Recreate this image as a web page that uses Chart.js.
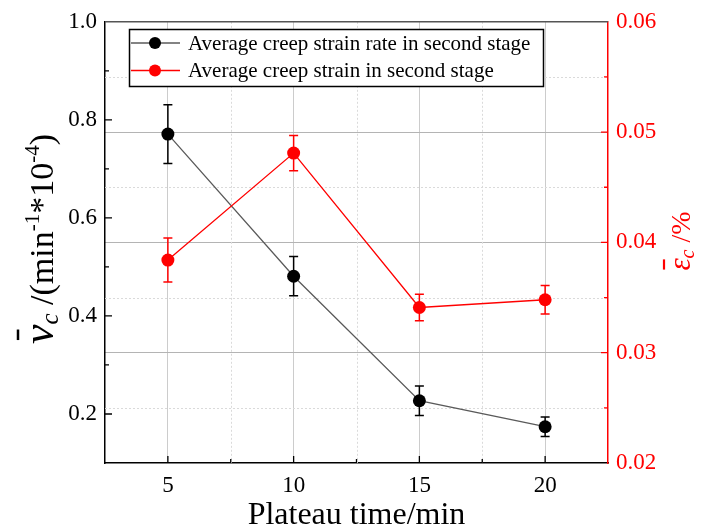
<!DOCTYPE html>
<html>
<head>
<meta charset="utf-8">
<script src="https://cdn.jsdelivr.net/npm/chart.js@4.4.0/dist/chart.umd.min.js"></script>
<style>
  html, body { margin: 0; padding: 0; background: #fff; }
  #wrap { width: 702px; height: 530px; }
</style>
</head>
<body>
<div id="wrap"><canvas id="creepChart" width="702" height="530"></canvas></div>
<script>
// Plateau time (min)
const plateauTimes = [5, 10, 15, 20];
// Left axis: average creep strain rate in second stage (min^-1 * 10^-4)
const strainRate = [0.771, 0.481, 0.227, 0.174];
const strainRateErr = [0.060, 0.040, 0.030, 0.020];
// Right axis: average creep strain in second stage (%)
const strainAvg = [0.0384, 0.0481, 0.0341, 0.0348];
const strainAvgErr = [0.0020, 0.0016, 0.0012, 0.0013];

// Tick labels
const xTickLabels = ['5', '10', '15', '20'];
const leftTickLabels = ['0.2', '0.4', '0.6', '0.8', '1.0'];
const rightTickLabels = ['0.02', '0.03', '0.04', '0.05', '0.06'];
const legendLabels = ['Average creep strain rate in second stage', 'Average creep strain in second stage'];

const serif = "'Liberation Serif', serif";
const RED = '#ff0000';

const isMultiple = (v, step) => Math.abs(v / step - Math.round(v / step)) < 1e-6;

/**
 * Dotted minor grid lines (x minors and right axis minors)
 */
const minorGrid = {
    id: 'minorGrid',
    beforeDatasetsDraw(chart) {
        const { ctx, chartArea: a } = chart;
        const xs = chart.scales.x, y2 = chart.scales.y2;
        ctx.save();
        ctx.strokeStyle = '#dadada';
        ctx.lineWidth = 1;
        ctx.setLineDash([2, 2]);
        ctx.beginPath();
        xs.ticks.forEach(t => {
            if (isMultiple(t.value, 5) || t.value <= xs.min || t.value >= xs.max) return;
            const x = Math.round(xs.getPixelForValue(t.value)) + 0.5;
            ctx.moveTo(x, a.top); ctx.lineTo(x, a.bottom);
        });
        y2.ticks.forEach(t => {
            if (isMultiple(t.value, 0.01) || t.value <= y2.min || t.value >= y2.max) return;
            const y = Math.round(y2.getPixelForValue(t.value)) + 0.5;
            ctx.moveTo(a.left, y); ctx.lineTo(a.right, y);
        });
        ctx.stroke();
        ctx.restore();
    }
};

/**
 * Vertical error bars with caps, drawn under the markers
 */
const errorBars = {
    id: 'errorBars',
    beforeDatasetsDraw(chart) {
        const { ctx } = chart;
        const xs = chart.scales.x;
        chart.data.datasets.forEach(ds => {
            const ys = chart.scales[ds.yAxisID];
            ctx.save();
            ctx.strokeStyle = ds.errColor;
            ctx.lineWidth = 1.5;
            ds.data.forEach((p, j) => {
                const x = xs.getPixelForValue(p.x);
                const top = ys.getPixelForValue(p.y + ds.errors[j]);
                const bot = ys.getPixelForValue(p.y - ds.errors[j]);
                ctx.beginPath();
                ctx.moveTo(x, top); ctx.lineTo(x, bot);
                ctx.moveTo(x - 4.5, top); ctx.lineTo(x + 4.5, top);
                ctx.moveTo(x - 4.5, bot); ctx.lineTo(x + 4.5, bot);
                ctx.stroke();
            });
            ctx.restore();
        });
    }
};

/**
 * Inward tick marks, top frame line, legend box and axis titles
 */
const decorations = {
    id: 'decorations',
    afterDraw(chart) {
        const { ctx, chartArea: a } = chart;
        const xs = chart.scales.x, ys = chart.scales.y, y2 = chart.scales.y2;

        // top frame
        ctx.save();
        ctx.strokeStyle = '#555';
        ctx.lineWidth = 1.5;
        ctx.beginPath();
        ctx.moveTo(a.left, a.top); ctx.lineTo(a.right, a.top);
        ctx.stroke();

        // inward ticks
        ctx.lineWidth = 1.3;
        ctx.strokeStyle = '#000';
        ctx.beginPath();
        xs.ticks.forEach(t => {
            if (t.value <= xs.min || t.value >= xs.max) return;
            const x = xs.getPixelForValue(t.value);
            const len = isMultiple(t.value, 5) ? 7 : 4;
            ctx.moveTo(x, a.bottom); ctx.lineTo(x, a.bottom - len);
        });
        ys.ticks.forEach(t => {
            if (t.value <= ys.min + 1e-9 || t.value >= ys.max - 1e-9) return;
            const y = ys.getPixelForValue(t.value);
            const len = isMultiple(t.value, 0.2) ? 7 : 4;
            ctx.moveTo(a.left, y); ctx.lineTo(a.left + len, y);
        });
        ctx.stroke();
        ctx.strokeStyle = RED;
        ctx.beginPath();
        y2.ticks.forEach(t => {
            if (t.value <= y2.min + 1e-9 || t.value >= y2.max - 1e-9) return;
            const y = y2.getPixelForValue(t.value);
            const len = isMultiple(t.value, 0.01) ? 7 : 4;
            ctx.moveTo(a.right, y); ctx.lineTo(a.right - len, y);
        });
        ctx.stroke();

        // legend
        const lx = 129, ly = 29, lw = 414, lh = 57;
        ctx.fillStyle = '#fff';
        ctx.fillRect(lx, ly, lw, lh);
        ctx.strokeStyle = '#000';
        ctx.lineWidth = 1.5;
        ctx.strokeRect(lx + 0.5, ly + 0.5, lw, lh);
        const rows = [
            { text: legendLabels[0], line: '#5a5a5a', dot: '#000', y: 43 },
            { text: legendLabels[1], line: RED, dot: RED, y: 70.5 }
        ];
        ctx.font = '21px ' + serif;
        ctx.textBaseline = 'middle';
        ctx.textAlign = 'left';
        rows.forEach(r => {
            ctx.strokeStyle = r.line;
            ctx.lineWidth = 1.3;
            ctx.beginPath();
            ctx.moveTo(lx + 2, r.y); ctx.lineTo(lx + 51, r.y);
            ctx.stroke();
            ctx.fillStyle = r.dot;
            ctx.beginPath();
            ctx.arc(lx + 26, r.y, 6, 0, Math.PI * 2);
            ctx.fill();
            ctx.fillStyle = '#000';
            ctx.fillText(r.text, lx + 59, r.y + 1);
        });

        // x title
        ctx.fillStyle = '#000';
        ctx.textBaseline = 'alphabetic';
        ctx.textAlign = 'center';
        ctx.font = '32px ' + serif;
        ctx.fillText('Plateau time/min', (a.left + a.right) / 2, 524);

        // rotated rich text helper
        const drawRotated = (parts, cx, baseX, color, bar) => {
            ctx.save();
            ctx.fillStyle = color;
            ctx.strokeStyle = color;
            ctx.textAlign = 'left';
            ctx.textBaseline = 'alphabetic';
            let total = 0;
            parts.forEach(p => { ctx.font = p.font; p.w = ctx.measureText(p.t).width; total += p.w; });
            ctx.translate(baseX, cx);
            ctx.rotate(-Math.PI / 2);
            let x = -total / 2;
            parts.forEach((p, i) => {
                ctx.font = p.font;
                ctx.fillText(p.t, x, p.dy || 0);
                if (i === 0 && bar) {
                    ctx.lineWidth = bar.w;
                    ctx.beginPath();
                    ctx.moveTo(x + bar.x0, -bar.h); ctx.lineTo(x + p.w - bar.x1, -bar.h);
                    ctx.stroke();
                }
                x += p.w;
            });
            ctx.restore();
        };

        drawRotated([
            { t: 'v', font: 'italic 44px ' + serif },
            { t: 'c', font: 'italic 25px ' + serif, dy: 5 },
            { t: ' /(min', font: '34px ' + serif },
            { t: '-1', font: '21px ' + serif, dy: -14 },
            { t: '*10', font: '34px ' + serif },
            { t: '-4', font: '21px ' + serif, dy: -14 },
            { t: ')', font: '34px ' + serif }
        ], 239, 53, '#000', { h: 35, w: 2.5, x0: 4, x1: 5 });

        drawRotated([
            { t: '\u03b5', font: 'italic 31px ' + serif },
            { t: 'c', font: 'italic 20px ' + serif, dy: 4 },
            { t: ' /%', font: '28px ' + serif }
        ], 241, 690, RED, { h: 26, w: 2.2, x0: 1, x1: 1 });

        ctx.restore();
    }
};

const ctx = document.getElementById('creepChart').getContext('2d');
new Chart(ctx, {
    type: 'line',
    data: {
        datasets: [
            {
                label: legendLabels[1],
                data: plateauTimes.map((x, i) => ({ x: x, y: strainAvg[i] })),
                yAxisID: 'y2',
                borderColor: RED,
                backgroundColor: RED,
                pointBackgroundColor: RED,
                pointBorderColor: RED,
                borderWidth: 1.3,
                pointRadius: 6.5,
                pointBorderWidth: 0,
                errors: strainAvgErr,
                errColor: RED
            },
            {
                label: legendLabels[0],
                data: plateauTimes.map((x, i) => ({ x: x, y: strainRate[i] })),
                yAxisID: 'y',
                borderColor: '#5a5a5a',
                backgroundColor: '#000',
                pointBackgroundColor: '#000',
                pointBorderColor: '#000',
                borderWidth: 1.3,
                pointRadius: 6.5,
                pointBorderWidth: 0,
                errors: strainRateErr,
                errColor: '#000'
            }
        ]
    },
    options: {
        responsive: false,
        animation: false,
        layout: { padding: { top: 21, left: 0, right: 0, bottom: 0 } },
        plugins: {
            legend: { display: false },
            tooltip: { enabled: false }
        },
        scales: {
            x: {
                type: 'linear',
                min: 2.5,
                max: 22.5,
                ticks: {
                    stepSize: 2.5,
                    autoSkip: false,
                    maxRotation: 0,
                    padding: 9,
                    color: '#000',
                    font: { family: serif, size: 23 },
                    callback: v => (isMultiple(v, 5) && xTickLabels.includes(String(v))) ? String(v) : ''
                },
                grid: {
                    drawTicks: false,
                    lineWidth: 1,
                    color: c => (c.tick && isMultiple(c.tick.value, 5) && c.tick.value >= 5 && c.tick.value <= 20) ? '#cccccc' : 'rgba(0,0,0,0)'
                },
                border: { color: '#000', width: 1.5 },
                afterFit: s => { s.height = 67; }
            },
            y: {
                position: 'left',
                min: 0.1,
                max: 1.0,
                ticks: {
                    stepSize: 0.1,
                    autoSkip: false,
                    padding: 8,
                    color: '#000',
                    font: { family: serif, size: 23 },
                    callback: v => {
                        const s = Number(v).toFixed(1);
                        return (isMultiple(v, 0.2) && leftTickLabels.includes(s)) ? s : '';
                    }
                },
                grid: { display: false, drawTicks: false },
                border: { color: '#000', width: 1.5 },
                afterFit: s => { s.width = 105; }
            },
            y2: {
                position: 'right',
                min: 0.02,
                max: 0.06,
                ticks: {
                    stepSize: 0.005,
                    autoSkip: false,
                    padding: 8,
                    color: RED,
                    font: { family: serif, size: 23 },
                    callback: v => {
                        const s = Number(v).toFixed(2);
                        return (isMultiple(v, 0.01) && rightTickLabels.includes(s)) ? s : '';
                    }
                },
                grid: {
                    drawTicks: false,
                    lineWidth: 1,
                    color: c => (c.tick && isMultiple(c.tick.value, 0.01) && c.tick.value > 0.021 && c.tick.value < 0.059) ? '#b4b4b4' : 'rgba(0,0,0,0)'
                },
                border: { color: RED, width: 1.5 },
                afterFit: s => { s.width = 94; }
            }
        }
    },
    plugins: [minorGrid, errorBars, decorations]
});
</script>
</body>
</html>
